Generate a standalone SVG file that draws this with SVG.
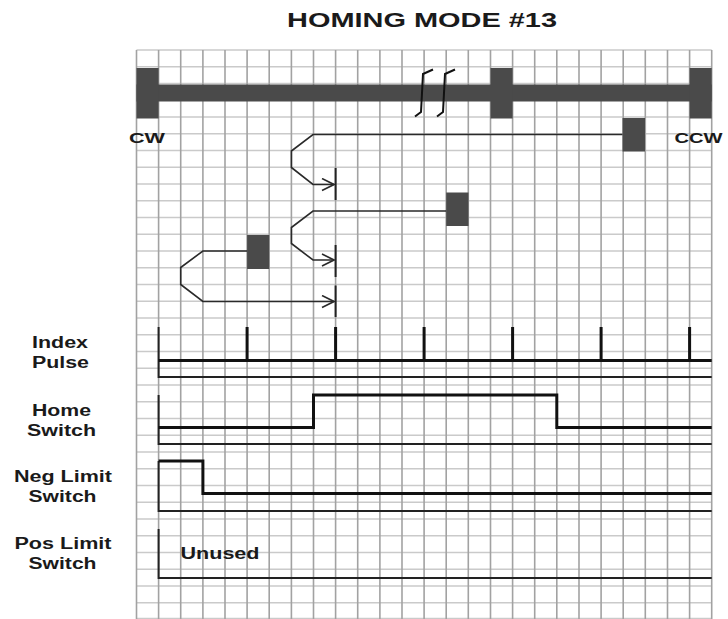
<svg xmlns="http://www.w3.org/2000/svg" width="728" height="619" viewBox="0 0 728 619">
<defs>
<style>
.hg{stroke:#cacaca;stroke-width:1.6}
.vg{stroke:#a2a2a2;stroke-width:1.6}
.blk{fill:#4a4a4a}
.pth{fill:none;stroke:#2a2a2a;stroke-width:1.6;stroke-linejoin:miter}
.sig{fill:none;stroke:#111;stroke-width:3}
.thin{fill:none;stroke:#222;stroke-width:2}
.lbl{font-family:"Liberation Sans",Arial,sans-serif;font-weight:bold;font-size:16px;fill:#1a1a1a}
</style>
<marker id="arr" viewBox="0 0 14 14" markerWidth="14" markerHeight="14" refX="13" refY="7" orient="auto" markerUnits="userSpaceOnUse">
<path d="M1,1 L13,7 L1,13" fill="none" stroke="#2a2a2a" stroke-width="1.6"/>
</marker>
</defs>
<rect width="728" height="619" fill="#fff"/>
<g id="grid">
<g class="hg">
<line x1="136.5" y1="50" x2="711.7" y2="50"/>
<line x1="136.5" y1="66.75" x2="711.7" y2="66.75"/>
<line x1="136.5" y1="83.5" x2="711.7" y2="83.5"/>
<line x1="136.5" y1="100.25" x2="711.7" y2="100.25"/>
<line x1="136.5" y1="117" x2="711.7" y2="117"/>
<line x1="136.5" y1="133.75" x2="711.7" y2="133.75"/>
<line x1="136.5" y1="150.5" x2="711.7" y2="150.5"/>
<line x1="136.5" y1="167.25" x2="711.7" y2="167.25"/>
<line x1="136.5" y1="184" x2="711.7" y2="184"/>
<line x1="136.5" y1="200.75" x2="711.7" y2="200.75"/>
<line x1="136.5" y1="217.5" x2="711.7" y2="217.5"/>
<line x1="136.5" y1="234.25" x2="711.7" y2="234.25"/>
<line x1="136.5" y1="251" x2="711.7" y2="251"/>
<line x1="136.5" y1="267.75" x2="711.7" y2="267.75"/>
<line x1="136.5" y1="284.5" x2="711.7" y2="284.5"/>
<line x1="136.5" y1="301.25" x2="711.7" y2="301.25"/>
<line x1="136.5" y1="318" x2="711.7" y2="318"/>
<line x1="136.5" y1="334.75" x2="711.7" y2="334.75"/>
<line x1="136.5" y1="351.5" x2="711.7" y2="351.5"/>
<line x1="136.5" y1="368.25" x2="711.7" y2="368.25"/>
<line x1="136.5" y1="385" x2="711.7" y2="385"/>
<line x1="136.5" y1="401.75" x2="711.7" y2="401.75"/>
<line x1="136.5" y1="418.5" x2="711.7" y2="418.5"/>
<line x1="136.5" y1="435.25" x2="711.7" y2="435.25"/>
<line x1="136.5" y1="452" x2="711.7" y2="452"/>
<line x1="136.5" y1="468.75" x2="711.7" y2="468.75"/>
<line x1="136.5" y1="485.5" x2="711.7" y2="485.5"/>
<line x1="136.5" y1="502.25" x2="711.7" y2="502.25"/>
<line x1="136.5" y1="519" x2="711.7" y2="519"/>
<line x1="136.5" y1="535.75" x2="711.7" y2="535.75"/>
<line x1="136.5" y1="552.5" x2="711.7" y2="552.5"/>
<line x1="136.5" y1="569.25" x2="711.7" y2="569.25"/>
<line x1="136.5" y1="586" x2="711.7" y2="586"/>
<line x1="136.5" y1="602.75" x2="711.7" y2="602.75"/>
<line x1="136.5" y1="618.5" x2="711.7" y2="618.5"/>
</g>
<g class="vg">
<line x1="136.5" y1="50" x2="136.5" y2="619"/>
<line x1="158.6" y1="50" x2="158.6" y2="619"/>
<line x1="180.7" y1="50" x2="180.7" y2="619"/>
<line x1="202.9" y1="50" x2="202.9" y2="619"/>
<line x1="225" y1="50" x2="225" y2="619"/>
<line x1="247.1" y1="50" x2="247.1" y2="619"/>
<line x1="269.2" y1="50" x2="269.2" y2="619"/>
<line x1="291.4" y1="50" x2="291.4" y2="619"/>
<line x1="313.5" y1="50" x2="313.5" y2="619"/>
<line x1="335.6" y1="50" x2="335.6" y2="619"/>
<line x1="357.7" y1="50" x2="357.7" y2="619"/>
<line x1="379.9" y1="50" x2="379.9" y2="619"/>
<line x1="402" y1="50" x2="402" y2="619"/>
<line x1="424.1" y1="50" x2="424.1" y2="619"/>
<line x1="446.2" y1="50" x2="446.2" y2="619"/>
<line x1="468.3" y1="50" x2="468.3" y2="619"/>
<line x1="490.5" y1="50" x2="490.5" y2="619"/>
<line x1="512.6" y1="50" x2="512.6" y2="619"/>
<line x1="534.7" y1="50" x2="534.7" y2="619"/>
<line x1="556.8" y1="50" x2="556.8" y2="619"/>
<line x1="579" y1="50" x2="579" y2="619"/>
<line x1="601.1" y1="50" x2="601.1" y2="619"/>
<line x1="623.2" y1="50" x2="623.2" y2="619"/>
<line x1="645.3" y1="50" x2="645.3" y2="619"/>
<line x1="667.5" y1="50" x2="667.5" y2="619"/>
<line x1="689.6" y1="50" x2="689.6" y2="619"/>
<line x1="711.7" y1="50" x2="711.7" y2="619"/>
</g>
</g>
<text class="lbl" x="287" y="26.5" font-size="20" style="font-size:20px" textLength="270" lengthAdjust="spacingAndGlyphs">HOMING MODE #13</text>
<g id="travel-bar">
<rect class="blk" x="136.5" y="84.5" width="575.2" height="17"/>
<rect class="blk" x="136.5" y="68" width="22.1" height="50.5"/>
<rect class="blk" x="490.5" y="68" width="22.1" height="50.5"/>
<rect class="blk" x="689.6" y="68" width="22.1" height="50.5"/>
<path d="M415,116.5 L421,112 L423,74 L433,69.5" fill="none" stroke="#111" stroke-width="2"/>
<path d="M437,116.5 L443,112 L445,74 L455,69.5" fill="none" stroke="#111" stroke-width="2"/>
<text class="lbl" x="129" y="143" textLength="36" lengthAdjust="spacingAndGlyphs" style="font-size:15px">CW</text>
<text class="lbl" x="674.5" y="143" textLength="48" lengthAdjust="spacingAndGlyphs" style="font-size:15px">CCW</text>
</g>
<g id="switch-block-1"><rect class="blk" x="622.5" y="118" width="22.5" height="33.5"/></g>
<g id="switch-block-2"><rect class="blk" x="446.2" y="192.5" width="22.3" height="33.5"/></g>
<g id="switch-block-3"><rect class="blk" x="247.1" y="235" width="22.1" height="34"/></g>
<g id="connectors">
<path class="pth" d="M622.5,134.5 L313,134.5 L291.4,151 L291.4,167.5 L313,184.5 L334,184.5" marker-end="url(#arr)"/>
<path class="pth" d="M446.2,211 L313,211 L291.4,227.5 L291.4,243.5 L313,260 L334,260" marker-end="url(#arr)"/>
<path class="pth" d="M247.1,251 L202.9,251 L180.7,267.5 L180.7,284.5 L202.9,301.5 L334,301.5" marker-end="url(#arr)"/>
<line x1="335.6" y1="168" x2="335.6" y2="200" stroke="#222" stroke-width="2"/>
<line x1="335.6" y1="245" x2="335.6" y2="277" stroke="#222" stroke-width="2"/>
<line x1="335.6" y1="285.5" x2="335.6" y2="317" stroke="#222" stroke-width="2"/>
</g>
<g id="index-pulse">
<text class="lbl" x="32" y="348" textLength="56" lengthAdjust="spacingAndGlyphs">Index</text>
<text class="lbl" x="32" y="368" textLength="57" lengthAdjust="spacingAndGlyphs">Pulse</text>
<path class="thin" d="M158.6,327 L158.6,377 L711.7,377"/>
<path class="sig" d="M158.6,360.5 L711.7,360.5"/>
<path class="sig" d="M247.1,327 V360.5 M335.6,327 V360.5 M424.1,327 V360.5 M512.6,327 V360.5 M601.1,327 V360.5 M689.6,327 V360.5"/>
</g>
<g id="home-switch">
<text class="lbl" x="32" y="416" textLength="59" lengthAdjust="spacingAndGlyphs">Home</text>
<text class="lbl" x="27" y="436" textLength="69" lengthAdjust="spacingAndGlyphs">Switch</text>
<path class="thin" d="M158.6,395 L158.6,444 L711.7,444"/>
<path class="sig" d="M158.6,427.5 L313.5,427.5 L313.5,395 L556.8,395 L556.8,427.5 L711.7,427.5"/>
</g>
<g id="neg-limit-switch">
<text class="lbl" x="14" y="482" textLength="98" lengthAdjust="spacingAndGlyphs">Neg Limit</text>
<text class="lbl" x="28.5" y="502" textLength="68" lengthAdjust="spacingAndGlyphs">Switch</text>
<path class="thin" d="M158.6,461 L158.6,511 L711.7,511"/>
<path class="sig" d="M158.6,461 L202.9,461 L202.9,493.5 L711.7,493.5"/>
</g>
<g id="pos-limit-switch">
<text class="lbl" x="14.5" y="549" textLength="97" lengthAdjust="spacingAndGlyphs">Pos Limit</text>
<text class="lbl" x="28.5" y="569" textLength="68" lengthAdjust="spacingAndGlyphs">Switch</text>
<path class="thin" d="M158.6,529 L158.6,578 L711.7,578"/>
<text class="lbl" x="180.5" y="559" textLength="79" lengthAdjust="spacingAndGlyphs">Unused</text>
</g>
</svg>
